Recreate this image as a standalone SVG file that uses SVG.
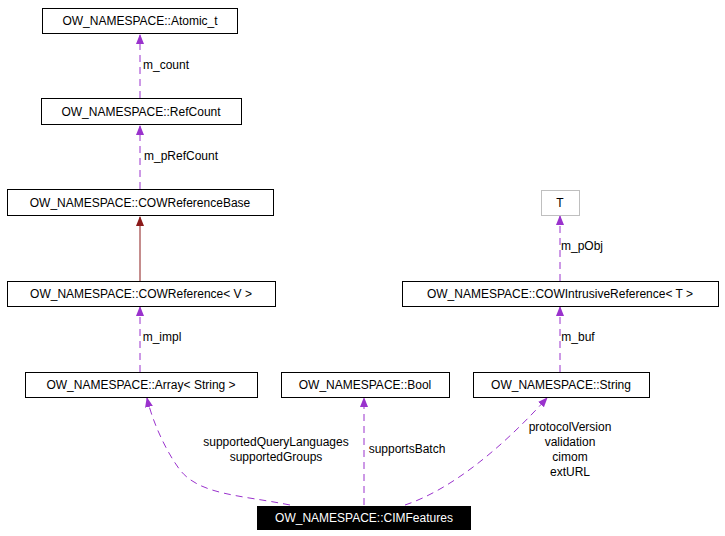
<svg xmlns="http://www.w3.org/2000/svg" width="725" height="536" viewBox="0 0 725 536">
<style>
text{font-family:"Liberation Sans",Arial,sans-serif;font-size:12px;text-anchor:middle}
.n rect{fill:#fff;stroke:#000;stroke-width:1}
.e{fill:none;stroke:#9a32cd;stroke-dasharray:7,5}
.s{fill:none;stroke:#8b1a1a}
</style>
<defs>
<marker id="ap" markerWidth="10" markerHeight="10" refX="9" refY="5" orient="auto" markerUnits="userSpaceOnUse"><path d="M0,1 L10,5 L0,9 z" fill="#9a32cd"/></marker>
<marker id="ar" markerWidth="10" markerHeight="10" refX="9" refY="5" orient="auto" markerUnits="userSpaceOnUse"><path d="M0,1 L10,5 L0,9 z" fill="#8b1a1a"/></marker>
</defs>
<rect width="725" height="536" fill="#fff"/>
<g id="connectors">
<path class="e" d="M140,98 L140,35" marker-end="url(#ap)"/>
<text x="166" y="69">m_count</text>
<path class="e" d="M140,189 L140,126" marker-end="url(#ap)"/>
<text x="181" y="160">m_pRefCount</text>
<path class="s" d="M140,281 L140,217" marker-end="url(#ar)"/>
<path class="e" d="M140,372 L140,307" marker-end="url(#ap)"/>
<text x="162" y="341">m_impl</text>
<path class="e" d="M290,505 C240,495 200,495 180,470 C165,450 152,420 147,398" marker-end="url(#ap)"/>
<text x="276" y="446">supportedQueryLanguages</text>
<text x="276" y="461">supportedGroups</text>
<path class="e" d="M364,505 L364,398" marker-end="url(#ap)"/>
<text x="407" y="453">supportsBatch</text>
<path class="e" d="M405,505 C450,490 500,450 547,398" marker-end="url(#ap)"/>
<text x="570" y="431">protocolVersion</text>
<text x="570" y="446">validation</text>
<text x="570" y="461">cimom</text>
<text x="570" y="476">extURL</text>
<path class="e" d="M560,372 L560,307" marker-end="url(#ap)"/>
<text x="578" y="341">m_buf</text>
<path class="e" d="M560,281 L560,216" marker-end="url(#ap)"/>
<text x="582" y="250">m_pObj</text>
</g>
<g id="atomic" class="n"><rect x="42.500" y="8.500" width="195" height="25"/><text x="140" y="25">OW_NAMESPACE::Atomic_t</text></g>
<g id="refcount" class="n"><rect x="41.500" y="98.500" width="200" height="26"/><text x="141" y="116">OW_NAMESPACE::RefCount</text></g>
<g id="cowrefbase" class="n"><rect x="7.500" y="189.500" width="266" height="26"/><text x="140" y="207">OW_NAMESPACE::COWReferenceBase</text></g>
<g id="cowref" class="n"><rect x="7.500" y="281.500" width="268" height="25"/><text x="141" y="298">OW_NAMESPACE::COWReference&lt; V &gt;</text></g>
<g id="array" class="n"><rect x="25.500" y="372.500" width="232" height="25"/><text x="141" y="389">OW_NAMESPACE::Array&lt; String &gt;</text></g>
<g id="bool" class="n"><rect x="281.500" y="372.500" width="168" height="25"/><text x="365" y="389">OW_NAMESPACE::Bool</text></g>
<g id="string" class="n"><rect x="473.500" y="372.500" width="176" height="25"/><text x="561" y="389">OW_NAMESPACE::String</text></g>
<g id="t" class="n"><rect x="541.500" y="190.500" width="38" height="25" style="stroke:#bfbfbf"/><text x="560" y="207">T</text></g>
<g id="cowintr" class="n"><rect x="402.500" y="281.500" width="316" height="25"/><text x="560" y="298">OW_NAMESPACE::COWIntrusiveReference&lt; T &gt;</text></g>
<g id="cimfeatures"><rect x="257" y="506" width="214" height="24" fill="#000"/><text x="364" y="522" fill="#fff">OW_NAMESPACE::CIMFeatures</text></g>
</svg>
